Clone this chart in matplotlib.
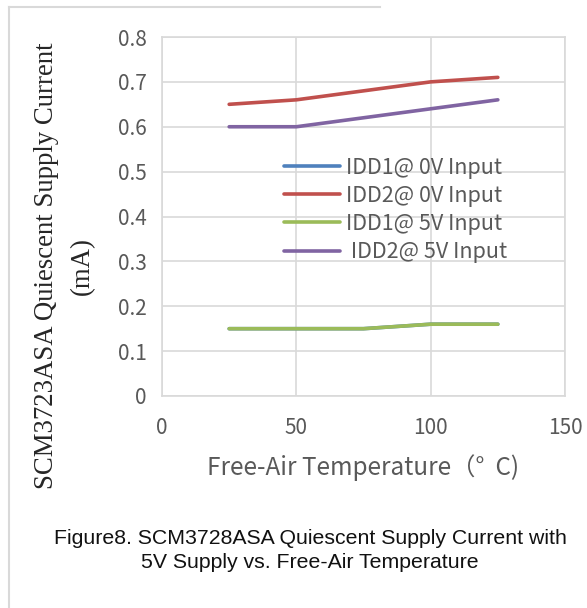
import matplotlib
matplotlib.use("Agg")
import matplotlib.pyplot as plt
from matplotlib.lines import Line2D

temps = [25, 50, 75, 100, 125]
idd1_0v = [0.15, 0.15, 0.15, 0.16, 0.16]
idd2_0v = [0.65, 0.66, 0.68, 0.70, 0.71]
idd1_5v = [0.15, 0.15, 0.15, 0.16, 0.16]
idd2_5v = [0.60, 0.60, 0.62, 0.64, 0.66]
labels = ["IDD1@ 0V Input", "IDD2@ 0V Input", "IDD1@ 5V Input", " IDD2@ 5V Input"]
colors = ["#4F81BD", "#C0504D", "#9BBB59", "#8064A2"]
xticks = [0, 50, 100, 150]
yticks = [0, 0.1, 0.2, 0.3, 0.4, 0.5, 0.6, 0.7, 0.8]

cjk = ["Noto Sans CJK SC", "DejaVu Sans"]

fig = plt.figure(figsize=(5.87, 6.08), dpi=100)
ax = fig.add_axes([162/587, 1-396/608, (565-162)/587, (396-37)/608])

for ys, c, lab in zip([idd1_0v, idd2_0v, idd1_5v, idd2_5v], colors, labels):
    ax.plot(temps, ys, color=c, lw=2.6, label=lab, solid_capstyle='round')

ax.set_xlim(0, 150)
ax.set_ylim(0, 0.8)
ax.set_xticks(xticks)
ax.set_yticks(yticks)
ax.set_yticklabels(["0" if v == 0 else f"{v:.1f}" for v in yticks])
ax.grid(True, color="#D9D9D9", lw=1.2)
ax.set_axisbelow(True)
for s in ax.spines.values():
    s.set_color("#D9D9D9")
    s.set_linewidth(1.2)
ax.tick_params(length=0, labelsize=15, colors="#595959")
ax.tick_params(axis='x', pad=15)
ax.tick_params(axis='y', pad=11)
for t in ax.get_xticklabels() + ax.get_yticklabels():
    t.set_fontfamily(cjk)

ax.set_xlabel("Free-Air Temperature（°  C)", fontsize=17.5, color="#595959",
              family=cjk, labelpad=11)

fig.text(47/587, 1-266/608, "SCM3723ASA Quiescent Supply Current", rotation=90,
         ha='center', va='center', family="Liberation Serif", fontsize=19.3, color="#262626")
fig.text(82/587, 1-266/608, "(mA)", rotation=90,
         ha='center', va='center', family="Liberation Serif", fontsize=19.3, color="#262626")

leg = ax.legend(loc='center left', bbox_to_anchor=((273-162)/403, (396-210)/359), frameon=False,
                prop={'family': cjk, 'size': 15.5},
                handlelength=2.6, handletextpad=0.3, labelspacing=0.28, borderpad=0)
for t in leg.get_texts():
    t.set_color("#595959")

fig.text(310/587, 1-539/608, "Figure8. SCM3728ASA Quiescent Supply Current with",
         ha='center', va='center', family="Liberation Sans", fontsize=15.3, color="#111111")
fig.text(310/587, 1-563/608, "5V Supply vs. Free-Air Temperature",
         ha='center', va='center', family="Liberation Sans", fontsize=15.3, color="#111111")

fig.add_artist(Line2D([9/587, 9/587], [1-7/608, 0], transform=fig.transFigure, color="#D9D9D9", lw=1.5))
fig.add_artist(Line2D([9/587, 380/587], [1-7/608, 1-7/608], transform=fig.transFigure, color="#D9D9D9", lw=1.5))

fig.savefig("out.png", dpi=100)
